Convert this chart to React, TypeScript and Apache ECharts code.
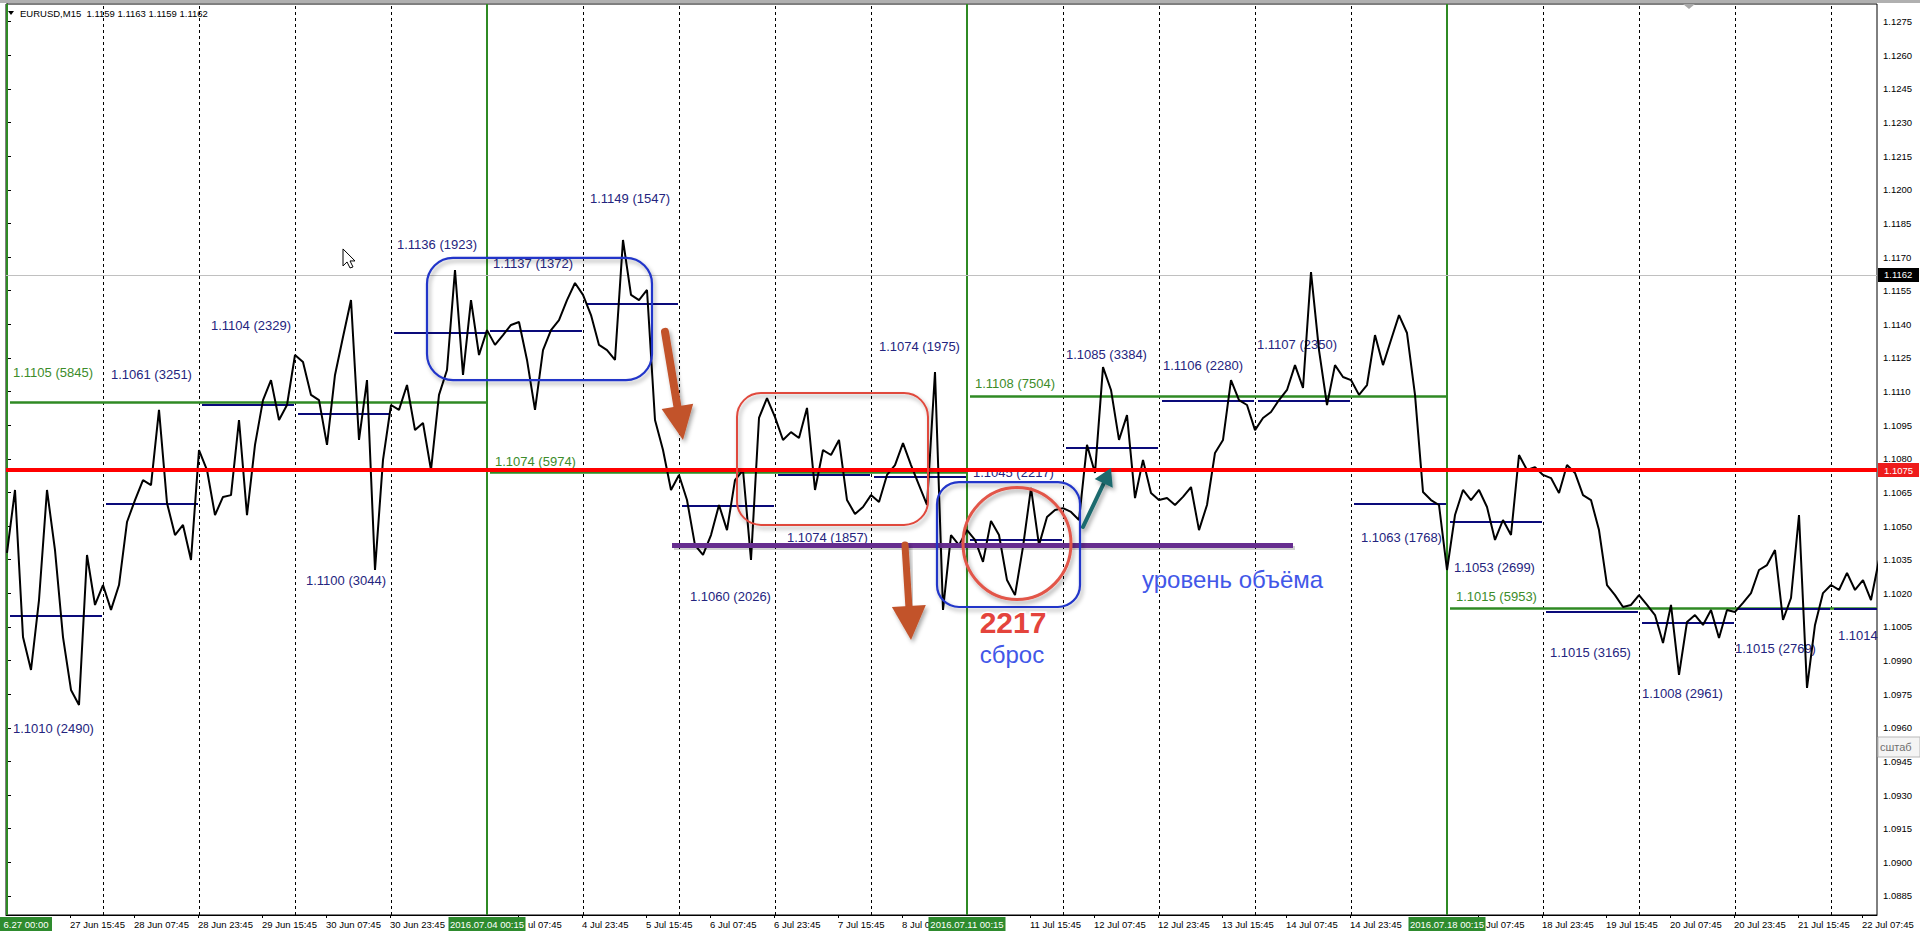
import React, { useEffect, useRef } from "react";
import * as echarts from "echarts";

// ---------- DATA ----------
// Price path, one value every 8 M15 bars (2 hours), starting 2016.06.27 00:00
const priceValues: number[] = [
  1.10380, 1.10661, 1.10005, 1.09858, 1.10170, 1.10661, 1.10393, 1.10005, 1.09769, 1.09702,
  1.10371, 1.10148, 1.10237, 1.10126, 1.10237, 1.10518, 1.10616, 1.10705, 1.10683, 1.11018,
  1.10603, 1.10460, 1.10505, 1.10349, 1.10839, 1.10750, 1.10549, 1.10630, 1.10638, 1.10973,
  1.10549, 1.10862, 1.11062, 1.11151, 1.10973, 1.11040, 1.11263, 1.11232, 1.11085, 1.11062,
  1.10862, 1.11174, 1.11343, 1.11508, 1.10884, 1.11151, 1.10304, 1.10795, 1.11040, 1.11018,
  1.11129, 1.10928, 1.10960, 1.10750, 1.11085, 1.11196, 1.11642, 1.11174, 1.11508, 1.11263,
  1.11374, 1.11308, 1.11352, 1.11397, 1.11410, 1.11241, 1.11018, 1.11285, 1.11374, 1.11419,
  1.11508, 1.11584, 1.11531, 1.11441, 1.11308, 1.11285, 1.11241, 1.11776, 1.11531, 1.11508,
  1.11553, 1.10973, 1.10839, 1.10661, 1.10728, 1.10616, 1.10415, 1.10371, 1.10460, 1.10594,
  1.10482, 1.10705, 1.10750, 1.10349, 1.10982, 1.11071, 1.10986, 1.10884, 1.10919, 1.10893,
  1.11027, 1.10661, 1.10839, 1.10817, 1.10884, 1.10616, 1.10554, 1.10585, 1.10638, 1.10607,
  1.10728, 1.10772, 1.10870, 1.10772, 1.10683, 1.10594, 1.11187, 1.10126, 1.10460, 1.10415,
  1.10482, 1.10438, 1.10340, 1.10523, 1.10460, 1.10259, 1.10192, 1.10407, 1.10670, 1.10415,
  1.10540, 1.10572, 1.10580, 1.10563, 1.10527, 1.10862, 1.10737, 1.11209, 1.11107, 1.10884,
  1.10995, 1.10625, 1.10795, 1.10647, 1.10616, 1.10625, 1.10594, 1.10630, 1.10674, 1.10482,
  1.10594, 1.10826, 1.10884, 1.11151, 1.11062, 1.11040, 1.10928, 1.10982, 1.11009, 1.11062,
  1.11107, 1.11218, 1.11116, 1.11633, 1.11285, 1.11040, 1.11218, 1.11165, 1.11151, 1.11085,
  1.11129, 1.11352, 1.11218, 1.11330, 1.11441, 1.11361, 1.11085, 1.10652, 1.10616, 1.10594,
  1.10304, 1.10549, 1.10661, 1.10616, 1.10661, 1.10585, 1.10438, 1.10527, 1.10460, 1.10817,
  1.10750, 1.10763, 1.10728, 1.10714, 1.10647, 1.10772, 1.10737, 1.10638, 1.10616, 1.10482,
  1.10237, 1.10192, 1.10139, 1.10148, 1.10192, 1.10148, 1.10103, 1.09978, 1.10148, 1.09836,
  1.10072, 1.10103, 1.10059, 1.10126, 1.10001, 1.10126, 1.10117, 1.10157, 1.10201, 1.10304,
  1.10326, 1.10393, 1.10081, 1.10179, 1.10549, 1.09778, 1.10059, 1.10201, 1.10237, 1.10215,
  1.10291, 1.10215, 1.10259, 1.10170, 1.10349,
];
const barsPerPoint = 8;

// Daily volume levels (navy)
const dayStartBars = [0, 96, 192, 288, 384, 480, 576, 672, 768, 864, 960, 1056, 1152, 1248, 1344, 1440, 1536, 1632, 1728, 1824];
const dayLevelPrices = [1.1010, 1.1060, 1.1104, 1.1100, 1.1136, 1.1137, 1.1149, 1.1059, 1.1073, 1.1072,
  1.1044, 1.1085, 1.1106, 1.1106, 1.1060, 1.1052, 1.1012, 1.1007, 1.1013, 1.1013];
const dayLevelLabels = ["1.1010 (2490)", "1.1061 (3251)", "1.1104 (2329)", "1.1100 (3044)", "1.1136 (1923)",
  "1.1137 (1372)", "1.1149 (1547)", "1.1060 (2026)", "1.1074 (1857)", "1.1074 (1975)",
  "1.1045 (2217)", "1.1085 (3384)", "1.1106 (2280)", "1.1107 (2350)", "1.1063 (1768)",
  "1.1053 (2699)", "1.1015 (3165)", "1.1008 (2961)", "1.1015 (2769)", "1.1014"];
const dayLabelBars = [6, 104, 204, 299, 390, 486, 583, 683, 780, 872, 966, 1059, 1156, 1250, 1354, 1447, 1543, 1635, 1728, 1831];
const dayLabelPrices = [1.09599, 1.11174, 1.11394, 1.10259, 1.11754, 1.11669, 1.11959, 1.10184, 1.10447, 1.11303,
  1.10737, 1.11267, 1.11218, 1.11312, 1.10451, 1.10313, 1.09938, 1.09755, 1.09952, 1.10010];

// Weekly volume levels (green)
const weekStartBars = [0, 480, 960, 1440];
const weekLevelPrices = [1.1105, 1.1074, 1.1108, 1.10135];
const weekLevelLabels = ["1.1105 (5845)", "1.1074 (5974)", "1.1108 (7504)", "1.1015 (5953)"];
const weekLabelBars = [6, 488, 968, 1449];
const weekLabelPrices = [1.11183, 1.10786, 1.11134, 1.10188];
const weekAxisLabels = ["6.27 00:00", "2016.07.04 00:15", "2016.07.11 00:15", "2016.07.18 00:15"];

// Time axis (labels partly hidden behind the week boxes are shown as their visible part)
const timeTickBars = [63, 127, 191, 255, 319, 383, 511, 575, 639, 703, 767, 831, 895, 1023, 1087, 1151,
  1215, 1279, 1343, 1471, 1535, 1599, 1663, 1727, 1791, 1855];
const timeLabelBars = [63, 127, 191, 255, 319, 383, 521, 575, 639, 703, 767, 831, 895, 1023, 1087, 1151,
  1215, 1279, 1343, 1479, 1535, 1599, 1663, 1727, 1791, 1855];
const timeTickLabels = ["27 Jun 15:45", "28 Jun 07:45", "28 Jun 23:45", "29 Jun 15:45", "30 Jun 07:45", "30 Jun 23:45",
  "ul 07:45", "4 Jul 23:45", "5 Jul 15:45", "6 Jul 07:45", "6 Jul 23:45", "7 Jul 15:45",
  "8 Jul 0", "11 Jul 15:45", "12 Jul 07:45", "12 Jul 23:45", "13 Jul 15:45", "14 Jul 07:45",
  "14 Jul 23:45", "Jul 07:45", "18 Jul 23:45", "19 Jul 15:45", "20 Jul 07:45", "20 Jul 23:45",
  "21 Jul 15:45", "22 Jul 07:45"];

// Price axis
const priceTicks = [1.1275, 1.1260, 1.1245, 1.1230, 1.1215, 1.1200, 1.1185, 1.1170, 1.1155, 1.1140, 1.1125,
  1.1110, 1.1095, 1.1080, 1.1065, 1.1050, 1.1035, 1.1020, 1.1005, 1.0990, 1.0975, 1.0960, 1.0945, 1.0930,
  1.0915, 1.0900, 1.0885];
const priceMin = 1.087652;
const priceMax = 1.128285;
const barMin = -1;
const barMax = 1870;

const supportLevel = 1.1075;
const bidPrice = 1.1162;
const volumeLevel = 1.10415;
const volumeLevelBars = [665, 1286];

// ---------- STYLE ----------
const FONT = "'Liberation Sans', Arial, sans-serif";
const NAVY = "#0a0a7a";
const NAVY_TEXT = "#24247e";
const GREEN = "#2f8a24";
const GREEN_TEXT = "#3c8c2a";
const BROWN = "#c2522c";
const TEAL = "#1f6b6e";
const BLUE_BOX = "#2136c9";
const RED_BOX = "#e04a3e";

export default function App() {
  const ref = useRef<HTMLDivElement>(null);

  useEffect(() => {
    if (!ref.current) return;
    const chart = echarts.init(ref.current, null, { renderer: "svg" });

    const dayLines = dayStartBars.map((b, i) => ({
      coords: [[b + 3, dayLevelPrices[i]], [Math.min(b + 95, barMax + 5), dayLevelPrices[i]]],
      lineStyle: { color: NAVY, width: 2, opacity: 1 },
    }));
    const weekLines = weekStartBars.map((b, i) => ({
      coords: [[b + 3, weekLevelPrices[i]], [Math.min(b + 480, barMax + 5), weekLevelPrices[i]]],
      lineStyle: { color: GREEN, width: 2.5, opacity: 1 },
    }));
    const dashed = dayStartBars
      .filter((b) => weekStartBars.indexOf(b) < 0)
      .map((b) => ({
        coords: [[b, priceMin], [b, priceMax]],
        lineStyle: { color: "#000", width: 1, type: [3, 3], opacity: 1 },
      }));
    const weekVerticals = weekStartBars.map((b) => ({
      coords: [[b, priceMin], [b, priceMax]],
      lineStyle: { color: GREEN, width: 2, type: "solid", opacity: 1 },
    }));

    const option: any = {
      animation: false,
      backgroundColor: "#ffffff",
      grid: {
        left: 6, right: 43, top: 4, bottom: 23, show: true,
        borderColor: "#000", borderWidth: 1, backgroundColor: "#fff",
      },
      xAxis: {
        type: "value", min: barMin, max: barMax,
        axisLine: { show: true, lineStyle: { color: "#000", width: 1 } },
        splitLine: { show: false },
        axisTick: { show: true, customValues: timeTickBars, length: 3, lineStyle: { color: "#000" } },
        axisLabel: {
          show: true, customValues: timeLabelBars, align: "left", margin: 4,
          fontSize: 9.5, color: "#000", fontFamily: FONT,
          formatter: (v: number) => {
            const i = timeLabelBars.findIndex((t) => Math.abs(t - v) < 0.5);
            return i >= 0 ? timeTickLabels[i] : "";
          },
        },
      },
      yAxis: {
        type: "value", position: "right", min: priceMin, max: priceMax,
        axisLine: { show: true, lineStyle: { color: "#000", width: 1 } },
        splitLine: { show: false },
        axisTick: { show: true, customValues: priceTicks, length: 4, lineStyle: { color: "#000" } },
        axisLabel: {
          show: true, customValues: priceTicks, margin: 6, fontSize: 9.5, color: "#000", fontFamily: FONT,
          formatter: (v: number) => v.toFixed(4),
        },
      },
      series: [
        {
          type: "lines", coordinateSystem: "cartesian2d", z: 1, silent: true,
          lineStyle: { opacity: 1 },
          data: [...dashed, ...weekVerticals,
            { coords: [[barMin, bidPrice], [barMax, bidPrice]], lineStyle: { color: "#c0c0c0", width: 1, opacity: 1 } }],
        },
        {
          type: "lines", coordinateSystem: "cartesian2d", z: 3, silent: true,
          lineStyle: { opacity: 1 },
          data: [...weekLines, ...dayLines],
        },
        {
          type: "line", z: 5, silent: true, symbol: "none", clip: true,
          data: priceValues.map((v, i) => [i * barsPerPoint, v]),
          lineStyle: { color: "#000", width: 2 },
        },
        {
          type: "lines", coordinateSystem: "cartesian2d", z: 6, silent: true,
          lineStyle: { opacity: 1 },
          data: [
            { coords: [[barMin, supportLevel], [barMax, supportLevel]], lineStyle: { color: "#ff0000", width: 4, opacity: 1 } },
          ],
        },
        {
          type: "lines", coordinateSystem: "cartesian2d", z: 7, silent: true,
          lineStyle: { opacity: 1 },
          data: [
            {
              coords: [[volumeLevelBars[0] + 2, volumeLevel - 0.00012], [volumeLevelBars[1] + 2, volumeLevel - 0.00012]],
              lineStyle: { color: "rgba(0,0,0,0.18)", width: 4, opacity: 1 },
            },
            {
              coords: [[volumeLevelBars[0], volumeLevel], [volumeLevelBars[1], volumeLevel]],
              lineStyle: { color: "#662d8f", width: 5, opacity: 1 },
            },
          ],
        },
      ],
    };
    chart.setOption(option);

    const px = (b: number, p: number) => chart.convertToPixel({ gridIndex: 0 }, [b, p]) as number[];
    const g: any[] = [];

    // level labels
    const addLabel = (text: string, b: number, p: number, color: string) => {
      const [x, y] = px(b, p);
      g.push({
        type: "text", z: 2, silent: true,
        style: { text, x, y, fill: color, font: `13px ${FONT}`, align: "left", verticalAlign: "middle",
          textAlign: "left", textVerticalAlign: "middle" },
      });
    };
    dayLevelLabels.forEach((t, i) => addLabel(t, dayLabelBars[i], dayLabelPrices[i], NAVY_TEXT));
    weekLevelLabels.forEach((t, i) => addLabel(t, weekLabelBars[i], weekLabelPrices[i], GREEN_TEXT));

    const shadow = { shadowColor: "rgba(0,0,0,0.35)", shadowBlur: 4, shadowOffsetX: 2, shadowOffsetY: 3 };

    const rrect = (b1: number, p1: number, b2: number, p2: number, color: string, r: number, w: number) => {
      const [x1, y1] = px(b1, p1);
      const [x2, y2] = px(b2, p2);
      g.push({
        type: "rect", z: 20, silent: true,
        shape: { x: x1, y: y1, width: x2 - x1, height: y2 - y1, r },
        style: { fill: "none", stroke: color, lineWidth: w, ...shadow },
      });
    };
    rrect(420, 1.11696, 645, 1.11151, BLUE_BOX, 26, 2.2);
    rrect(930, 1.10696, 1073, 1.10139, BLUE_BOX, 22, 2.2);
    rrect(730, 1.11093, 921, 1.10505, RED_BOX, 24, 2);

    {
      const [cx, cy] = px(1010, 1.10422);
      g.push({
        type: "ellipse", z: 21, silent: true,
        shape: { cx, cy, rx: 54, ry: 56 },
        style: { fill: "none", stroke: "#e2564a", lineWidth: 3, ...shadow },
      });
    }

    const arrow = (b1: number, p1: number, b2: number, p2: number, color: string, sw: number, hl: number, hw: number) => {
      const [x1, y1] = px(b1, p1);
      const [x2, y2] = px(b2, p2);
      const dx = x2 - x1, dy = y2 - y1;
      const len = Math.sqrt(dx * dx + dy * dy);
      const ux = dx / len, uy = dy / len;
      const bx = x2 - ux * hl, by = y2 - uy * hl;
      const nx = -uy, ny = ux;
      g.push({
        type: "line", z: 22, silent: true,
        shape: { x1, y1, x2: bx + ux * 2, y2: by + uy * 2 },
        style: { stroke: color, lineWidth: sw, lineCap: "round", ...shadow },
      });
      g.push({
        type: "polygon", z: 22, silent: true,
        shape: { points: [[x2, y2], [bx + nx * hw, by + ny * hw], [bx - nx * hw, by - ny * hw]] },
        style: { fill: color, ...shadow },
      });
    };
    arrow(658, 1.11366, 676, 1.10884, BROWN, 8, 34, 16);
    arrow(898, 1.10415, 904, 1.09992, BROWN, 7, 34, 17);
    arrow(1076, 1.10496, 1104, 1.10759, TEAL, 4, 17, 10);

    const bigText = (text: string, b: number, p: number, color: string, font: string, align: string) => {
      const [x, y] = px(b, p);
      g.push({
        type: "text", z: 23, silent: true,
        style: {
          text, x, y, fill: color, font, align, verticalAlign: "middle", textAlign: align, textVerticalAlign: "middle",
          stroke: "#ffffff", lineWidth: 3, shadowColor: "rgba(0,0,0,0.45)", shadowBlur: 3, shadowOffsetX: 1, shadowOffsetY: 2,
        },
      });
    };
    bigText("уровень объёма", 1135, 1.1026, "#4257e8", `24px ${FONT}`, "left");
    bigText("2217", 1006, 1.10072, "#e4443c", `bold 30px ${FONT}`, "center");
    bigText("сброс", 1005, 1.09925, "#4257e8", `24px ${FONT}`, "center");

    // mouse cursor
    {
      const [cx, cy] = px(336, 1.11736);
      const pts = [[0, 0], [0, 17], [4, 13], [7, 19], [10, 18], [7, 12], [12, 12]].map(([a, b]) => [cx + a, cy + b]);
      g.push({ type: "polygon", z: 24, silent: true, shape: { points: pts }, style: { fill: "#fff", stroke: "#000", lineWidth: 1 } });
    }

    // week label boxes on time axis
    weekStartBars.forEach((b, i) => {
      const [x] = px(b, priceMin);
      const left = i === 0 ? 0 : x - 38.5;
      const width = i === 0 ? 52 : 77;
      g.push({ type: "rect", z: 30, silent: true, shape: { x: left, y: 917, width, height: 14 }, style: { fill: "#2e8b2e" } });
      g.push({
        type: "text", z: 31, silent: true,
        style: { text: weekAxisLabels[i], x: left + width / 2, y: 924, fill: "#fff", font: `9.5px ${FONT}`,
          align: "center", verticalAlign: "middle", textAlign: "center", textVerticalAlign: "middle" },
      });
    });

    // price boxes on price axis
    const priceBox = (p: number, bg: string) => {
      const [, y] = px(barMax, p);
      g.push({ type: "rect", z: 30, silent: true, shape: { x: 1878, y: y - 7, width: 41, height: 14 }, style: { fill: bg } });
      g.push({
        type: "text", z: 31, silent: true,
        style: { text: p.toFixed(4), x: 1884, y, fill: "#fff", font: `9.5px ${FONT}`,
          align: "left", verticalAlign: "middle", textAlign: "left", textVerticalAlign: "middle" },
      });
    };
    priceBox(supportLevel, "#ee1c1c");
    priceBox(bidPrice, "#000000");

    // scale tooltip fragment
    g.push({ type: "rect", z: 30, silent: true, shape: { x: 1878, y: 737, width: 42, height: 20 },
      style: { fill: "#f4f4f4", stroke: "#b8b8b8", lineWidth: 1 } });
    g.push({ type: "text", z: 31, silent: true,
      style: { text: "сштаб", x: 1880, y: 747, fill: "#707070", font: `11px ${FONT}`, align: "left", verticalAlign: "middle",
        textAlign: "left", textVerticalAlign: "middle" } });

    // window chrome
    g.push({ type: "rect", z: 40, silent: true, shape: { x: 0, y: 0, width: 1920, height: 3 }, style: { fill: "#b0b0b0" } });
    g.push({ type: "polygon", z: 41, silent: true, shape: { points: [[1683, 4], [1695, 4], [1689, 9]] }, style: { fill: "#a8a8a8" } });
    g.push({ type: "polygon", z: 41, silent: true, shape: { points: [[8, 11], [14, 11], [11, 15]] }, style: { fill: "#000" } });
    g.push({
      type: "text", z: 41, silent: true,
      style: { text: "EURUSD,M15  1.1159 1.1163 1.1159 1.1162", x: 20, y: 13, fill: "#000", font: `9.5px ${FONT}`,
        align: "left", verticalAlign: "middle", textAlign: "left", textVerticalAlign: "middle" },
    });

    chart.setOption({ graphic: { elements: g } });
    return () => chart.dispose();
  }, []);

  return (
    <div
      ref={ref}
      style={{ position: "fixed", left: 0, top: 0, width: 1920, height: 938, background: "#fff" }}
    />
  );
}
